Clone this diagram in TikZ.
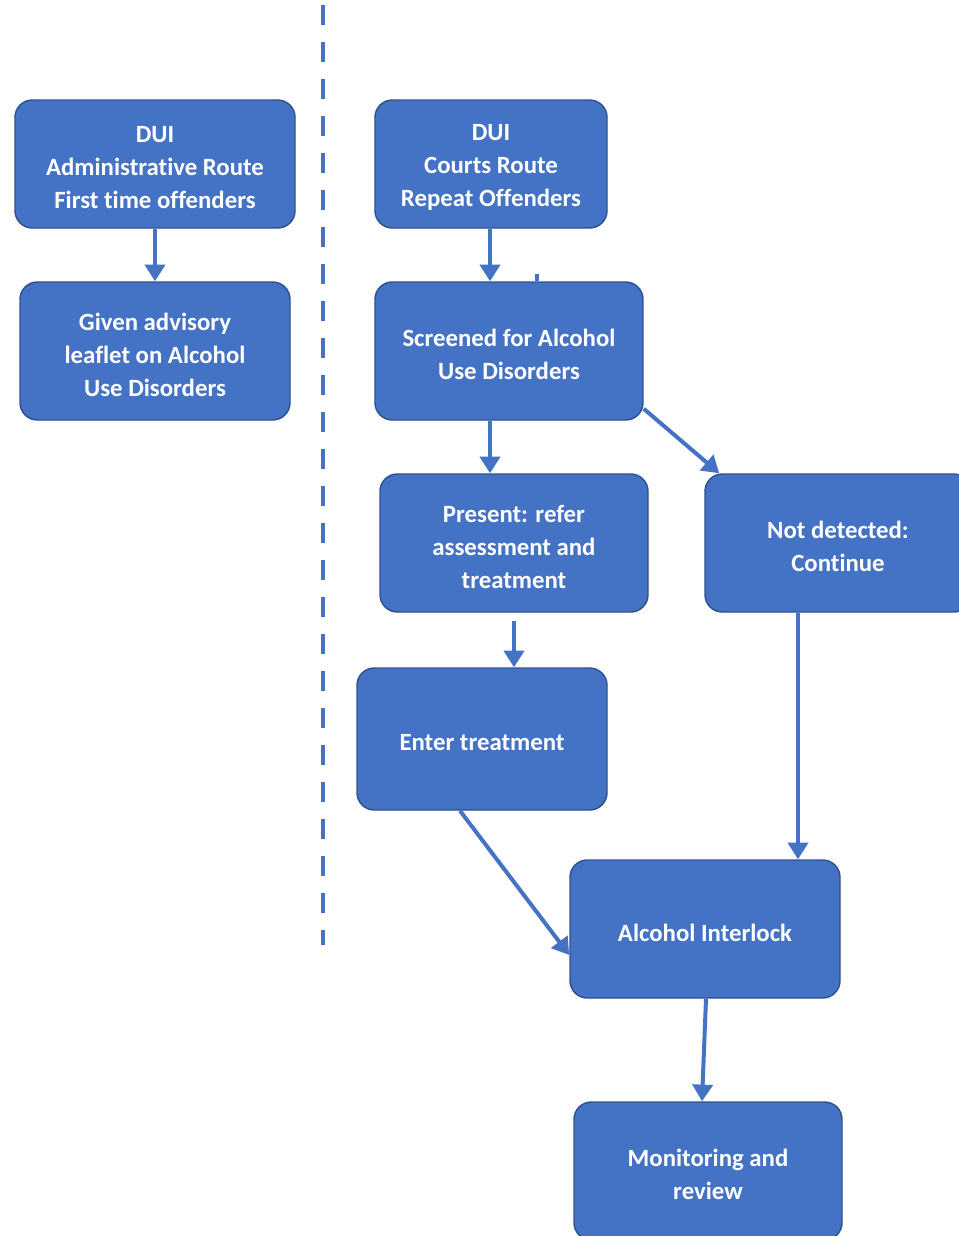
\documentclass[tikz,border=0pt]{standalone}
\usepackage{fontspec}
\setmainfont{Carlito}[Ligatures=NoCommon]
\usetikzlibrary{arrows.meta,calc}
\definecolor{boxblue}{HTML}{4472C4}
\definecolor{boxedge}{HTML}{2F528F}
\begin{document}
\begin{tikzpicture}[x=0.75pt,y=-0.75pt,
  box/.style={draw=boxedge, line width=1.1pt, fill=boxblue, rounded corners=13pt,
    inner sep=0pt},
  boxtext/.style={text=white, align=center, inner sep=0pt, yshift=-2.8pt,
    font=\bfseries\fontsize{18.6}{24.75}\selectfont},
  conn/.style={draw=boxblue, line width=3pt,
    -{Triangle[length=12.5pt,width=15pt]}},
  divider/.style={draw=boxblue, line width=3.2pt, dash pattern=on 15pt off 12.75pt}]
\useasboundingbox (0,0) rectangle (958,1236);
% boxes (centre, size in px)
\node[box, minimum width=210pt, minimum height=96pt,
  label={[boxtext]center:{DUI\\Administrative Route\\First time offenders}}] (adm) at (155,164) {};
\node[box, minimum width=202.5pt, minimum height=103.5pt,
  label={[boxtext]center:{Given advisory\\leaflet on Alcohol\\Use Disorders}}] (adv) at (155,351) {};
\node[box, minimum width=174pt, minimum height=96pt,
  label={[boxtext]center:{DUI\\Courts Route\\Repeat Offenders}}] (courts) at (491,164) {};
\node[box, minimum width=201pt, minimum height=103.5pt,
  label={[boxtext]center:{Screened for Alcohol\\Use Disorders}}] (screen) at (509,351) {};
\node[box, minimum width=201pt, minimum height=103.5pt,
  label={[boxtext]center:{Present: refer\\assessment and\\treatment}}] (present) at (514,543) {};
\node[box, minimum width=199.5pt, minimum height=103.5pt,
  label={[boxtext]center:{Not detected:\\Continue}}] (notdet) at (838,543) {};
\node[box, minimum width=187.5pt, minimum height=106.5pt,
  label={[boxtext]center:{Enter treatment}}] (enter) at (482,739) {};
\node[box, minimum width=202.5pt, minimum height=103.5pt,
  label={[boxtext]center:{Alcohol Interlock}}] (lock) at (705,929) {};
\node[box, minimum width=201pt, minimum height=103.5pt,
  label={[boxtext]center:{Monitoring and\\review}}] (mon) at (708,1171) {};
% divider
\coordinate (dtop) at (323,5);
\coordinate (dbot) at (323,945);
\draw[divider] (dtop) -- (dbot);
% small stray tick above screening box
\coordinate (tick) at (537,274);
\draw[draw=boxblue, line width=2.4pt] (tick) -- (tick |- screen.north);
% connectors
\draw[conn] (adm.south) -- (adv.north);
\draw[conn] ($(courts.south)+(-1,0)$) -- ($(courts.south |- screen.north)+(-1,0)$);
\draw[conn] ($(screen.south -| courts.south)+(-1,0)$) -- ($(present.north -| courts.south)+(-1,0)$);
\draw[conn] ($(screen.south east)+(0,-12)$) -- ($(notdet.north west)+(15,0)$);
\draw[conn] ($(present.south)+(0,8)$) -- (present.south |- enter.north);
\draw[conn] ($(notdet.south -| lock.north)+(93,0)$) -- ($(lock.north)+(93,0)$);
\draw[conn] ($(enter.south)+(-22,0)$) -- ($(lock.west)+(0,26)$);
\draw[conn] ($(lock.south)+(1,0)$) -- ($(mon.north)+(-6,0)$);
\end{tikzpicture}
\end{document}
